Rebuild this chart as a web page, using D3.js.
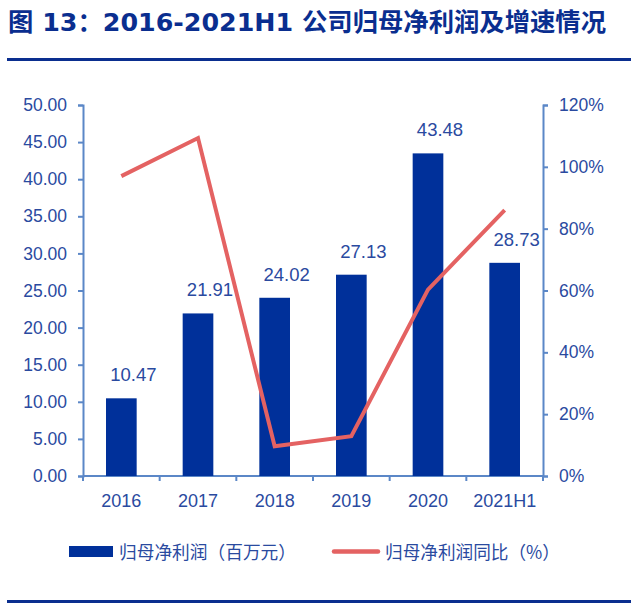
<!DOCTYPE html>
<html><head><meta charset="utf-8">
<script src="https://cdn.jsdelivr.net/npm/d3@7"></script>
<style>
body{margin:0;background:#fff;}
svg text{font-family:"Liberation Sans",Arial,"Noto Sans CJK SC",sans-serif;}
</style></head>
<body><svg id="c" width="638" height="609"></svg>
<script>
const categories = ["2016","2017","2018","2019","2020","2021H1"];
const profit = [10.47, 21.91, 24.02, 27.13, 43.48, 28.73];
const growth = [97, 109.3, 9.6, 12.9, 60.3, 86];
const leftTicks = [0,5,10,15,20,25,30,35,40,45,50];
const rightTicks = [0,20,40,60,80,100,120];
const title = "图 13：2016-2021H1 公司归母净利润及增速情况";
const legendLabels = ["归母净利润（百万元）","归母净利润同比（%）"];

const svg = d3.select("#c");
const navy = "#0a2e8f", axisC = "#5b87c7", textC = "#2a4a9f", barC = "#00309a", lineC = "#e46262";
const L = 83, R = 543, T = 105, B = 476;

svg.append("text").attr("x", 8).attr("y", 31).text(title)
  .attr("font-size", 25).attr("font-weight", "bold").attr("fill", navy)
  .attr("textLength", 598).attr("lengthAdjust", "spacingAndGlyphs")
  .style("font-family", "'DejaVu Sans','Noto Sans CJK SC',sans-serif");
svg.append("rect").attr("x", 7).attr("y", 58).attr("width", 624).attr("height", 3).attr("fill", navy);
svg.append("rect").attr("x", 7).attr("y", 600).attr("width", 624).attr("height", 3).attr("fill", navy);

const x = d3.scaleBand().domain(categories).range([L, R]);
const yL = d3.scaleLinear().domain([0, 50]).range([B, T]);
const yR = d3.scaleLinear().domain([0, 120]).range([B, T]);

const gL = svg.append("g").attr("transform", `translate(${L},0)`)
  .call(d3.axisLeft(yL).tickValues(leftTicks).tickFormat(d3.format(".2f")).tickSizeInner(5).tickSizeOuter(5).tickPadding(11));
const gR = svg.append("g").attr("transform", `translate(${R},0)`)
  .call(d3.axisRight(yR).tickValues(rightTicks).tickFormat(d => d + "%").tickSizeInner(5).tickSizeOuter(5).tickPadding(11));
const gX = svg.append("g").attr("transform", `translate(0,${B})`)
  .call(d3.axisBottom(x).tickSize(0).tickPadding(18));
const bounds = categories.map(c => x(c)).concat([R]);
gX.selectAll(".btick").data(bounds).enter().append("line")
  .attr("x1", d => d).attr("x2", d => d).attr("y1", 0).attr("y2", 5);
[gL, gR, gX].forEach(g => {
  g.selectAll("path.domain").attr("stroke", axisC).attr("stroke-width", 2);
  g.selectAll("line").attr("stroke", axisC).attr("stroke-width", 2);
  g.selectAll("text").attr("fill", textC).attr("font-size", 17.5);
});
gX.selectAll("text").attr("font-size", 18);
gX.select("path.domain").attr("d", `M${L},0H${R}`);

// bars
const bw = x.bandwidth() * 0.4;
svg.selectAll(".bar").data(profit).enter().append("rect")
  .attr("x", (d, i) => x(categories[i]) + x.bandwidth() / 2 - bw / 2)
  .attr("y", d => yL(d)).attr("width", bw).attr("height", d => B - yL(d))
  .attr("fill", barC);
svg.selectAll(".lbl").data(profit).enter().append("text")
  .attr("x", (d, i) => x(categories[i]) + x.bandwidth() / 2 + 12)
  .attr("y", d => yL(d) - 17).attr("text-anchor", "middle")
  .attr("font-size", 18.5).attr("fill", textC).text(d => d.toFixed(2));

// line
const line = d3.line().x((d, i) => x(categories[i]) + x.bandwidth() / 2).y(d => yR(d));
svg.append("path").datum(growth).attr("d", line).attr("fill", "none")
  .attr("stroke", lineC).attr("stroke-width", 4).attr("stroke-linejoin", "miter");

// legend
svg.append("rect").attr("x", 69).attr("y", 546).attr("width", 44).attr("height", 11).attr("fill", barC);
svg.append("text").attr("x", 119).attr("y", 559).text(legendLabels[0]).attr("font-size", 18).attr("fill", textC)
  .attr("textLength", 177).attr("lengthAdjust", "spacingAndGlyphs")
  .style("font-family", "'Noto Sans CJK SC',sans-serif");
svg.append("line").attr("x1", 334).attr("x2", 378).attr("y1", 551.5).attr("y2", 551.5)
  .attr("stroke", lineC).attr("stroke-width", 4.5).attr("stroke-linecap", "round");
svg.append("text").attr("x", 385).attr("y", 559).text(legendLabels[1]).attr("font-size", 18).attr("fill", textC)
  .attr("textLength", 175).attr("lengthAdjust", "spacingAndGlyphs")
  .style("font-family", "'Noto Sans CJK SC',sans-serif");
</script></body></html>
